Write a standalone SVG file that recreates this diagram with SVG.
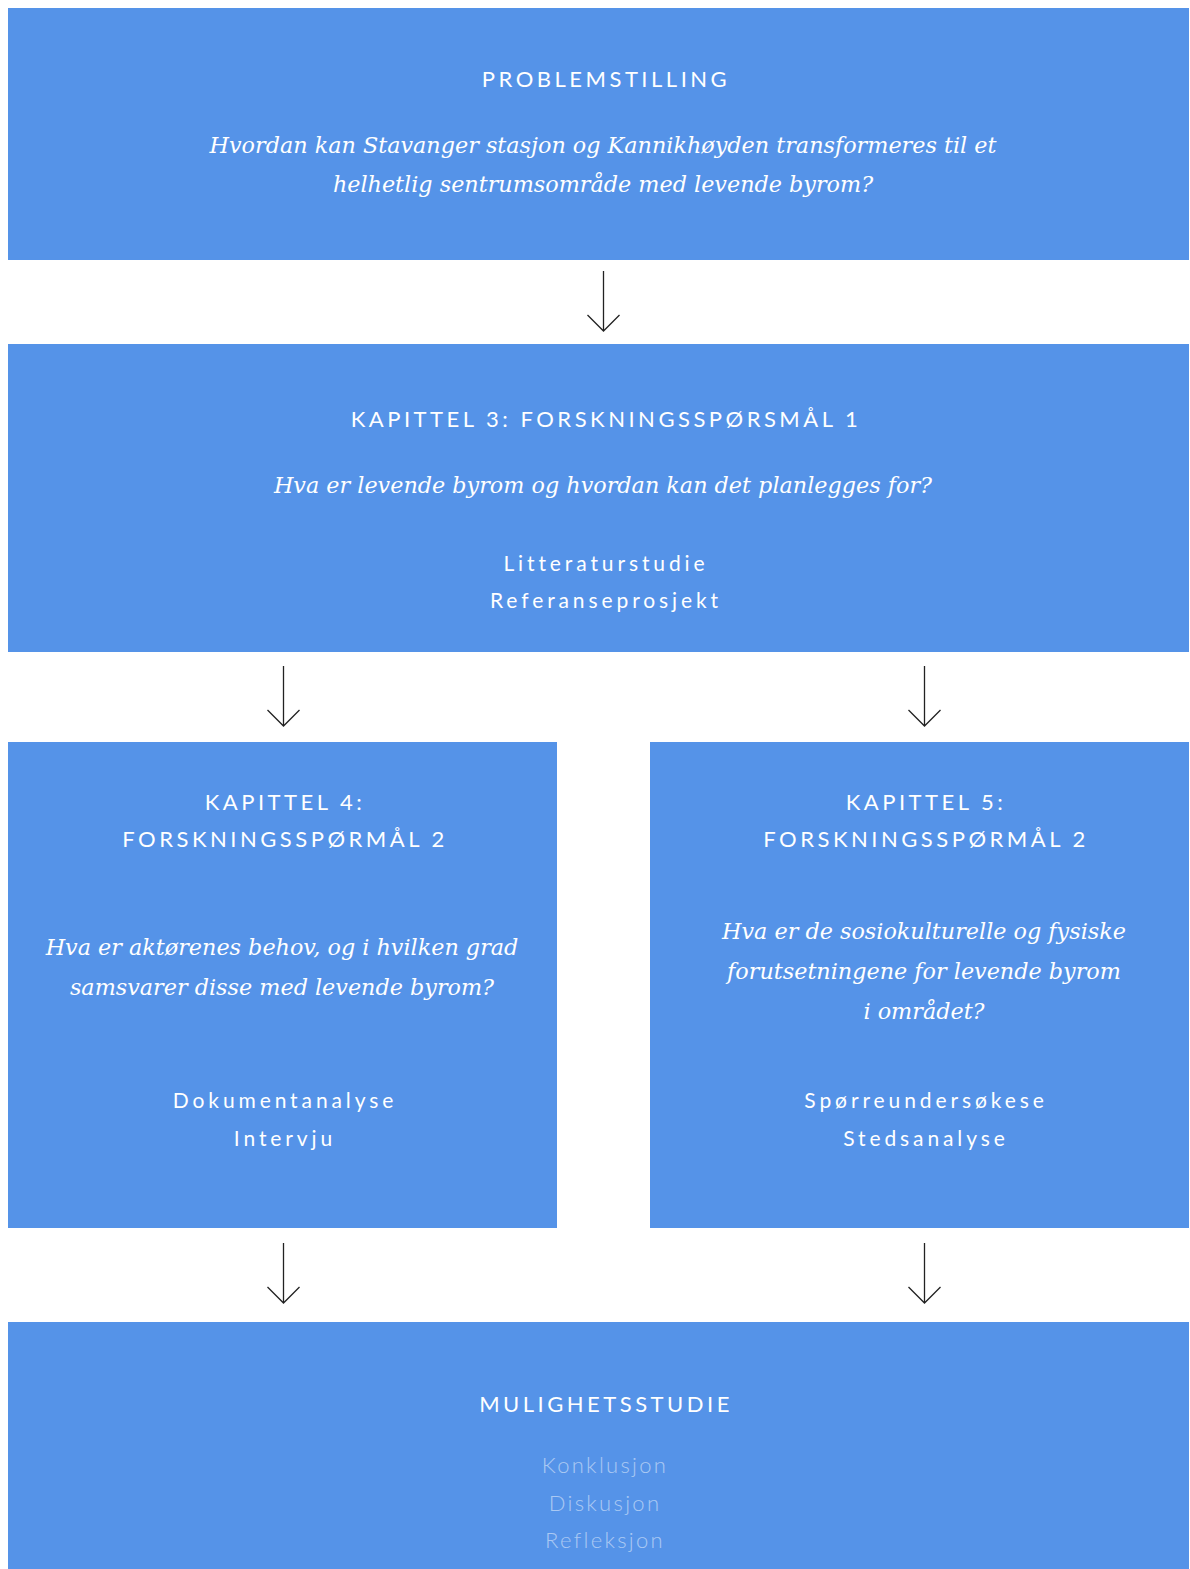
<svg xmlns="http://www.w3.org/2000/svg" width="1190" height="1569" viewBox="0 0 1190 1569">
<style>
.box{fill:#5593e8}
.cap{font-family:Lato,"Open Sans",sans-serif;font-size:22px;fill:#fff;letter-spacing:3.5px;text-anchor:middle}
.it{font-family:"DejaVu Serif","Liberation Serif",serif;font-style:italic;font-size:22.3px;fill:#fff;text-anchor:middle}
.m{font-family:Lato,"Open Sans",sans-serif;font-size:21px;fill:#fff;letter-spacing:3.9px;text-anchor:middle}
.f{font-family:Lato,"Open Sans",sans-serif;font-weight:300;font-size:22px;fill:#fff;fill-opacity:0.5;letter-spacing:2.3px;text-anchor:middle}
.ar{stroke:#222;stroke-width:1.3;fill:none}
</style>
<rect width="1190" height="1569" fill="#fff"/>
<g id="problemstilling">
<rect class="box" x="8" y="8" width="1181" height="252"/>
<text class="cap" x="606" y="87">PROBLEMSTILLING</text>
<text class="it" x="603" y="153">Hvordan kan Stavanger stasjon og Kannikhøyden transformeres til et</text>
<text class="it" x="603" y="192">helhetlig sentrumsområde med levende byrom?</text>
</g>
<g id="kapittel3">
<rect class="box" x="8" y="344" width="1181" height="308"/>
<text class="cap" x="606" y="427">KAPITTEL 3: FORSKNINGSSPØRSMÅL 1</text>
<text class="it" x="603" y="493">Hva er levende byrom og hvordan kan det planlegges for?</text>
<text class="m" x="606" y="571">Litteraturstudie</text>
<text class="m" x="606" y="608">Referanseprosjekt</text>
</g>
<g id="kapittel4">
<rect class="box" x="8" y="742" width="549" height="486"/>
<text class="cap" x="285" y="810">KAPITTEL 4:</text>
<text class="cap" x="285" y="847">FORSKNINGSSPØRMÅL 2</text>
<text class="it" x="282" y="955">Hva er aktørenes behov, og i hvilken grad</text>
<text class="it" x="282" y="995">samsvarer disse med levende byrom?</text>
<text class="m" x="285" y="1108">Dokumentanalyse</text>
<text class="m" x="285" y="1146">Intervju</text>
</g>
<g id="kapittel5">
<rect class="box" x="650" y="742" width="539" height="486"/>
<text class="cap" x="926" y="810">KAPITTEL 5:</text>
<text class="cap" x="926" y="847">FORSKNINGSSPØRMÅL 2</text>
<text class="it" x="924" y="939">Hva er de sosiokulturelle og fysiske</text>
<text class="it" x="924" y="979">forutsetningene for levende byrom</text>
<text class="it" x="924" y="1019">i området?</text>
<text class="m" x="926" y="1108">Spørreundersøkese</text>
<text class="m" x="926" y="1146">Stedsanalyse</text>
</g>
<g id="mulighetsstudie">
<rect class="box" x="8" y="1322" width="1181" height="247"/>
<text class="cap" x="606" y="1412">MULIGHETSSTUDIE</text>
<text class="f" x="605" y="1473">Konklusjon</text>
<text class="f" x="605" y="1511">Diskusjon</text>
<text class="f" x="605" y="1548">Refleksjon</text>
</g>
<g id="connectors">
<path class="ar" d="M603.5 271V331M587.5 315L603.5 331L619.5 315"/>
<path class="ar" d="M283.5 666V726M267.5 710L283.5 726L299.5 710"/>
<path class="ar" d="M924.5 666V726M908.5 710L924.5 726L940.5 710"/>
<path class="ar" d="M283.5 1243V1303M267.5 1287L283.5 1303L299.5 1287"/>
<path class="ar" d="M924.5 1243V1303M908.5 1287L924.5 1303L940.5 1287"/>
</g>
</svg>
